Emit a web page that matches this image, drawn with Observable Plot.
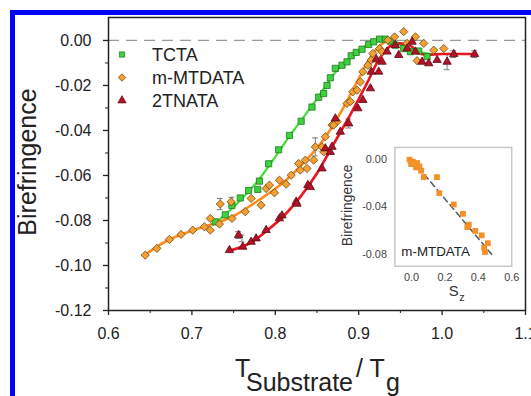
<!DOCTYPE html>
<html><head><meta charset="utf-8">
<script src="https://cdn.jsdelivr.net/npm/d3@7"></script>
<script src="https://cdn.jsdelivr.net/npm/@observablehq/plot@0.6"></script>
<style>
html,body{margin:0;padding:0;background:#fff;overflow:hidden;}
#wrap{position:relative;width:531px;height:396px;overflow:hidden;font-family:"Liberation Sans",Arial,sans-serif;}
#border{position:absolute;left:10px;top:10px;width:560px;height:420px;border-left:5px solid #0000ff;border-top:5px solid #0000ff;box-sizing:border-box;}
#main,#inset{position:absolute;left:0;top:0;}
#inset{left:335px;top:142px;}
</style></head>
<body><div id="wrap"><div id="border"></div><div id="main"></div><div id="inset"></div></div>
<script>
// ---- tick values ----
const xTicks = [0.6, 0.7, 0.8, 0.9, 1.0, 1.1];
const xMinor = [0.65, 0.75, 0.85, 0.95, 1.05];
const yTicks = [0, -0.02, -0.04, -0.06, -0.08, -0.10, -0.12];
const yMinor = [-0.01, -0.03, -0.05, -0.07, -0.09, -0.11];
const insetXTicks = [0.0, 0.2, 0.4, 0.6];
const insetYTicks = [0.00, -0.04, -0.08];

// ---- series names ----
const seriesNames = ["TCTA", "m-MTDATA", "2TNATA"];

// ---- TCTA ----
const tctaX = [0.728,0.740,0.748,0.758,0.768,0.779,0.781,0.792,0.804,0.817,0.831,0.844,0.852,0.858,0.862,0.866,0.872,0.880,0.886,0.891,0.897,0.904,0.912,0.918,0.925,0.932,0.938,0.944,0.954,0.962,0.972,0.982];
const tctaY = [-0.0806,-0.0775,-0.0733,-0.0700,-0.0667,-0.0662,-0.0625,-0.0548,-0.0486,-0.0422,-0.0359,-0.0296,-0.0252,-0.0236,-0.0200,-0.0166,-0.0124,-0.0110,-0.0095,-0.0068,-0.0053,-0.0039,-0.0018,-0.0006,0.0006,0.0006,-0.0003,-0.0021,-0.0036,-0.0050,-0.0047,-0.0072];
const tctaFitX = [0.725,0.750,0.780,0.820,0.850,0.870,0.890,0.910,0.930,0.945,0.960,0.985];
const tctaFitY = [-0.0820,-0.0740,-0.0620,-0.0410,-0.0260,-0.0150,-0.0075,-0.0020,0.0008,-0.0010,-0.0040,-0.0060];

// ---- m-MTDATA ----
const mtdX = [0.644,0.658,0.673,0.687,0.701,0.715,0.722,0.722,0.733,0.734,0.748,0.747,0.764,0.771,0.783,0.789,0.793,0.799,0.805,0.813,0.819,0.828,0.830,0.836,0.838,0.846,0.848,0.856,0.858,0.860,0.868,0.874,0.870,0.886,0.890,0.893,0.898,0.902,0.905,0.911,0.915,0.917,0.925,0.928,0.935,0.943,0.954,0.958,0.968,0.970,0.978,0.990,1.002];
const mtdY = [-0.0954,-0.0924,-0.0884,-0.0862,-0.0843,-0.0828,-0.0791,-0.0843,-0.0816,-0.0727,-0.0791,-0.0717,-0.0761,-0.0702,-0.0732,-0.0658,-0.0643,-0.0677,-0.0621,-0.0639,-0.0599,-0.0547,-0.0576,-0.0532,-0.0569,-0.0532,-0.0473,-0.0473,-0.0495,-0.0428,-0.0376,-0.0361,-0.0376,-0.0280,-0.0272,-0.0228,-0.0221,-0.0184,-0.0139,-0.0110,-0.0087,-0.0058,-0.0036,-0.0050,0.0001,0.0016,0.0039,-0.0013,0.0016,-0.0090,-0.0013,-0.0043,-0.0036];
const mtdFitX = [0.643,0.670,0.700,0.730,0.750,0.780,0.810,0.840,0.860,0.880,0.900,0.915,0.930,0.942];
const mtdFitY = [-0.0955,-0.0890,-0.0845,-0.0810,-0.0780,-0.0710,-0.0630,-0.0520,-0.0430,-0.0310,-0.0170,-0.0070,-0.0010,0.0002];

// ---- 2TNATA ----
const tnaX = [0.745,0.756,0.761,0.771,0.777,0.789,0.805,0.808,0.825,0.826,0.839,0.842,0.856,0.860,0.866,0.868,0.872,0.878,0.888,0.899,0.905,0.914,0.915,0.921,0.924,0.928,0.934,0.944,0.948,0.958,0.964,0.968,0.976,0.984,0.994,1.006,1.014,1.039];
const tnaY = [-0.0932,-0.0865,-0.0917,-0.0895,-0.0880,-0.0843,-0.0791,-0.0778,-0.0717,-0.0726,-0.0643,-0.0652,-0.0569,-0.0480,-0.0496,-0.0473,-0.0347,-0.0406,-0.0369,-0.0302,-0.0265,-0.0213,-0.0139,-0.0084,-0.0139,-0.0095,-0.0050,-0.0021,-0.0065,-0.0036,-0.0006,-0.0050,-0.0095,-0.0102,-0.0087,-0.0095,-0.0061,-0.0061];
const tnaFitX = [0.745,0.770,0.790,0.810,0.830,0.850,0.870,0.890,0.910,0.925,0.940,0.960,0.975,1.000,1.040];
const tnaFitY = [-0.0935,-0.0900,-0.0845,-0.0780,-0.0695,-0.0590,-0.0460,-0.0330,-0.0190,-0.0080,-0.0020,-0.0020,-0.0060,-0.0060,-0.0060];

// ---- error bars (x, y, half-width) ----
const errX = [0.734,0.748,0.848,0.756,1.006,1.014,1.039,0.888,0.760];
const errY = [-0.0727,-0.0717,-0.0473,-0.0865,-0.0095,-0.0061,-0.0061,-0.0369,-0.0880];
const errD = [0.0025,0.0020,0.0040,0.0015,0.0035,0.0015,0.0015,0.0020,0.0015];

// ---- inset: birefringence vs S_z (m-MTDATA) ----
const insetS = [-0.012,0.007,-0.003,0.033,0.047,0.027,0.057,0.073,0.152,0.166,0.253,0.308,0.343,0.334,0.382,0.420,0.457,0.435,0.440];
const insetB = [-0.0003,-0.0020,-0.0040,-0.0031,-0.0060,-0.0068,-0.0096,-0.0150,-0.0150,-0.0285,-0.0380,-0.0459,-0.0550,-0.0570,-0.0603,-0.0640,-0.0706,-0.0745,-0.0780];
const insetFitS = [0.0, 0.48];
const insetFitB = [0.0, -0.080];

const pts = (xs, ys) => xs.map((x, i) => ({x, y: ys[i]}));
const tcta = pts(tctaX, tctaY), mtd = pts(mtdX, mtdY), tna = pts(tnaX, tnaY);
const tctaFit = pts(tctaFitX, tctaFitY), mtdFit = pts(mtdFitX, mtdFitY), tnaFit = pts(tnaFitX, tnaFitY);
const errs = errX.map((x, i) => ({x, y: errY[i], lo: errY[i] - errD[i], hi: errY[i] + errD[i]}));
const inset = pts(insetS, insetB), insetFit = pts(insetFitS, insetFitB);

const FONT = '"Liberation Sans", Arial, sans-serif';
const colors = {green: "#3fd03f", greenS: "#1e7a1e", orange: "#f5a030", orangeS: "#6b4a1a", red: "#b3122a", redS: "#5a0a10"};

const main = Plot.plot({
  width: 531, height: 396,
  marginLeft: 108, marginRight: 6, marginTop: 17, marginBottom: 86,
  x: {domain: [0.6, 1.1], label: null},
  y: {domain: [-0.12, 0.0102], label: null},
  style: {fontFamily: FONT, color: "#222", background: "transparent", overflow: "visible"},
  marks: [
    Plot.ruleY([0], {stroke: "#9a9a9a", strokeDasharray: "11,7", strokeWidth: 1.3}),
    Plot.axisX({ticks: xTicks, tickSize: 5, tickPadding: 12, tickFormat: d => d.toFixed(1), fontSize: 16, label: null, strokeWidth: 1.3}),
    Plot.axisX({ticks: xMinor, tickSize: 3, tickFormat: () => "", label: null}),
    Plot.axisY({ticks: yTicks, tickSize: 5, tickPadding: 12, tickFormat: d => d.toFixed(2), fontSize: 16, label: null, strokeWidth: 1.3}),
    Plot.axisY({ticks: yMinor, tickSize: 3, tickFormat: () => "", label: null}),
    Plot.ruleY(errs, {x1: d => d.x - 0.0035, x2: d => d.x + 0.0035, y: "hi", stroke: "#7a7a7a", strokeWidth: 1}),
    Plot.ruleY(errs, {x1: d => d.x - 0.0035, x2: d => d.x + 0.0035, y: "lo", stroke: "#7a7a7a", strokeWidth: 1}),
    Plot.ruleX(errs, {x: "x", y1: "lo", y2: "hi", stroke: "#7a7a7a", strokeWidth: 1}),
    Plot.line(tctaFit, {x: "x", y: "y", curve: "catmull-rom", stroke: "#40e030", strokeWidth: 2.2}),
    Plot.line(mtdFit, {x: "x", y: "y", curve: "catmull-rom", stroke: "#ff8c1a", strokeWidth: 2.6}),
    Plot.line(tnaFit, {x: "x", y: "y", curve: "catmull-rom", stroke: "#e8141e", strokeWidth: 2.6}),
    Plot.dot(tcta, {x: "x", y: "y", symbol: "square", r: 3.5, fill: colors.green, stroke: colors.greenS, strokeWidth: 0.8}),
    Plot.dot(mtd, {x: "x", y: "y", symbol: "diamond2", r: 3.7, fill: colors.orange, stroke: colors.orangeS, strokeWidth: 0.8}),
    Plot.dot(tna, {x: "x", y: "y", symbol: "triangle", r: 3.1, fill: colors.red, stroke: colors.redS, strokeWidth: 0.8}),
    Plot.frame({stroke: "#222", strokeWidth: 1.5})
  ]
});
document.getElementById("main").appendChild(main);

const svg = d3.select(main);
// legend
const legendSymbols = [d3.symbolSquare, d3.symbolSquare, d3.symbolTriangle];
const legendFill = [colors.green, colors.orange, colors.red];
const legendStroke = [colors.greenS, colors.orangeS, colors.redS];
const legendRot = [0, 45, 0];
const lg = svg.append("g").attr("text-anchor", "start");
seriesNames.forEach((name, i) => {
  const cy = 54.5 + i * 23;
  lg.append("path").attr("d", d3.symbol(legendSymbols[i], i === 2 ? 30 : 28)())
    .attr("transform", `translate(122,${cy}) rotate(${legendRot[i]})`)
    .attr("fill", legendFill[i]).attr("stroke", legendStroke[i]).attr("stroke-width", 0.7);
  lg.append("text").attr("x", 152).attr("y", cy + 6.5).attr("font-size", 18)
    .attr("font-family", FONT).attr("fill", "#222").attr("text-anchor", "start").text(name);
});
// y title
svg.append("text").attr("transform", "translate(36,162) rotate(-90)").attr("text-anchor", "middle")
  .attr("font-size", 25).attr("font-family", FONT).attr("fill", "#222").text("Birefringence");
// x title
const xt = svg.append("text").attr("font-family", FONT).attr("font-size", 25).attr("fill", "#222").attr("text-anchor", "start");
xt.append("tspan").attr("x", 235).attr("y", 377).text("T");
xt.append("tspan").attr("x", 246).attr("y", 391).text("Substrate");
xt.append("tspan").attr("x", 356).attr("y", 377).text("/ T");
xt.append("tspan").attr("x", 386).attr("y", 391).text("g");

// inset
const ins = Plot.plot({
  width: 198, height: 165,
  marginLeft: 60, marginRight: 20, marginTop: 5, marginBottom: 40,
  x: {domain: [-0.1, 0.6], label: null},
  y: {domain: [-0.09, 0.01], label: null},
  style: {fontFamily: FONT, color: "#444", background: "transparent", overflow: "visible"},
  marks: [
    Plot.axisX({ticks: insetXTicks, tickSize: 0, tickPadding: 7, tickFormat: d => d.toFixed(1), fontSize: 11, label: null}),
    Plot.axisY({ticks: insetYTicks, tickSize: 0, tickPadding: 8, tickFormat: d => d.toFixed(2), fontSize: 11, label: null}),
    Plot.line(insetFit, {x: "x", y: "y", stroke: "#4d5a68", strokeWidth: 1.5, strokeDasharray: "6,4"}),
    Plot.dot(inset, {x: "x", y: "y", symbol: "square", r: 3.3, fill: "#f39027"}),
    Plot.frame({stroke: "#c8c8c8", strokeWidth: 1.5})
  ]
});
document.getElementById("inset").appendChild(ins);
const isvg = d3.select(ins);
isvg.append("text").attr("x", 67).attr("y", 115).attr("font-size", 13.5).attr("font-family", FONT).attr("fill", "#222").attr("text-anchor", "start").text("m-MTDATA");
isvg.append("text").attr("transform", "translate(17,64) rotate(-90)").attr("text-anchor", "middle")
  .attr("font-size", 14).attr("font-family", FONT).attr("fill", "#333").text("Birefringence");
const sz = isvg.append("text").attr("font-family", FONT).attr("fill", "#333").attr("text-anchor", "start");
sz.append("tspan").attr("x", 115).attr("y", 156).attr("font-size", 15).text("S");
sz.append("tspan").attr("x", 125.5).attr("y", 161).attr("font-size", 11).text("z");
</script>
</body></html>
